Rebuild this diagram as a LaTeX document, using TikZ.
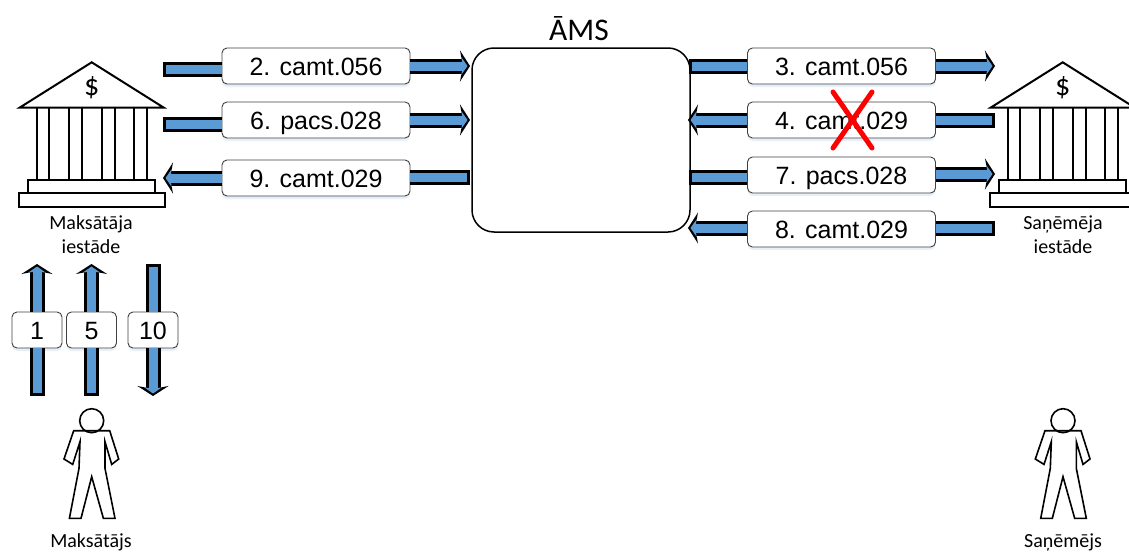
\documentclass[tikz,border=0pt]{standalone}
\usepackage{fontspec}
\setmainfont{Liberation Sans}
\newfontfamily\smallfont{Carlito}
\usetikzlibrary{arrows.meta,shadows}
\definecolor{flowblue}{HTML}{5B9BD5}
\tikzset{
  msgbox/.style={draw=black!75, fill=white, rounded corners=5pt, line width=0.9pt,
    minimum width=188pt, minimum height=36pt, inner sep=0pt,
    text height=18pt, text depth=0pt,
    font=\fontsize{25}{30}\selectfont,
    drop shadow={shadow xshift=0pt, shadow yshift=-3pt, fill=flowblue, opacity=0.15}},
  numbox/.style={msgbox, minimum width=50pt},
  flowtail/.style={draw=flowblue, line width=9pt, shorten >=3pt,
    preaction={draw=black, line width=15pt, shorten >=0pt}},
  flowhead/.style={draw=flowblue, line width=9pt, shorten >=2.5pt,
    -{Stealth[length=6pt,width=17pt,inset=1pt,fill=flowblue]},
    preaction={draw=black, line width=15pt, shorten >=0pt,
      -{Stealth[length=10pt,width=31pt,inset=3pt,fill=black]}}},
  cross/.style={draw=red, line width=5pt, line cap=round},
  namelabel/.style={font=\smallfont\fontsize{20}{24}\selectfont, align=center, inner sep=0pt},
  bank/.pic={
    \draw [line width=2pt, line join=miter] (-72,45.3)--(0,0)--(72,45.3)--cycle;
    \foreach \colx in {-55,-42.3,-22.7,-9.7,10,23.3,42.3,55.3}
      \draw [line width=2pt] (\colx,45.3)--(\colx,117.7);
    \draw [line width=2pt] (-63.5,117.7) rectangle (63.5,131);
    \draw [line width=2pt] (-72.8,131) rectangle (72.8,145);
    \node [font=\smallfont\fontsize{30}{32}\selectfont] at (0,25) {\$};
  },
  person/.pic={
    \draw [line width=1.6pt] (0,0) circle (12);
    \draw [line width=1.6pt, line join=miter] (-18,10)--(18,10)--(27,38.3)--(20,43.7)--(13.3,21)
      --(13.3,47.7)--(23.3,97.7)--(11.7,97.7)--(0,56)--(-10.7,97.7)--(-22.3,97.7)
      --(-12.7,47.7)--(-11.7,21)--(-19,43.7)--(-27.7,38.3)--cycle;
  }
}
\begin{document}
\begin{tikzpicture}[x=1pt,y=-1pt]
  \useasboundingbox (0,0) rectangle (1129,554);
  \clip (0,0) rectangle (1129,554);

  \node [font=\smallfont\fontsize{31.5}{34}\selectfont] (title) at (579,29) {ĀMS};
  \node [draw, line width=1.5pt, rounded corners=22pt, minimum width=218pt, minimum height=184pt] (ams) at (581,140) {};

  \pic at (91.7,62.3) {bank};
  \pic at (1062.7,62.3) {bank};
  \node [namelabel] (payerbank) at (91,235) {Maksātāja\\iestāde};
  \node [namelabel] (payeebank) at (1063,235) {Saņēmēja\\iestāde};

  \pic at (91.7,420.7) {person};
  \pic at (1063,420.7) {person};
  \node [namelabel] (payer) at (91,542.5) {Maksātājs};
  \node [namelabel] (payee) at (1063,542.5) {Saņēmējs};

  % left side
  \node [msgbox] (m2) at (316,66) {2. camt.056};
  \node [msgbox] (m6) at (316,120) {6. pacs.028};
  \node [msgbox] (m9) at (316,178) {9. camt.029};
  \coordinate (t2) at (163,69);
  \coordinate (h2) at (470,66);
  \coordinate (t6) at (163,124);
  \coordinate (h6) at (470,120);
  \coordinate (h9) at (163,178);
  \coordinate (t9) at (470,177);
  \draw [flowtail] (t2 -| m2.west)--(t2);
  \draw [flowhead] (m2.east)--(h2);
  \draw [flowtail] (t6 -| m6.west)--(t6);
  \draw [flowhead] (m6.east)--(h6);
  \draw [flowhead] (m9.west)--(h9);
  \draw [flowtail] (t9 -| m9.east)--(t9);

  % right side
  \node [msgbox] (m3) at (841.5,66) {3. camt.056};
  \node [msgbox] (m4) at (841.5,120) {4. camt.029};
  \node [msgbox] (m7) at (841.5,175) {7. pacs.028};
  \node [msgbox] (m8) at (841.5,229) {8. camt.029};
  \coordinate (t3) at (689,66);
  \coordinate (h3) at (995,66);
  \coordinate (h4) at (688,120);
  \coordinate (t4) at (995,120);
  \coordinate (t7) at (689,177);
  \coordinate (h7) at (995,174);
  \coordinate (h8) at (688,228);
  \coordinate (t8) at (995,228);
  \draw [flowtail] (m3.west)--(t3);
  \draw [flowhead] (m3.east)--(h3);
  \draw [flowhead] (m4.west)--(h4);
  \draw [flowtail] (m4.east)--(t4);
  \draw [flowtail] (t7 -| m7.west)--(t7);
  \draw [flowhead] (h7 -| m7.east)--(h7);
  \draw [flowhead] (h8 -| m8.west)--(h8);
  \draw [flowtail] (t8 -| m8.east)--(t8);
  \draw [cross] (833,92)--(872,148);
  \draw [cross] (872,92)--(833,148);

  % payer side
  \node [numbox] (n1) at (37,330) {1};
  \node [numbox] (n5) at (91.5,330) {5};
  \node [numbox] (n10) at (153,330) {10};
  \coordinate (h1) at (37,264);
  \coordinate (t1) at (37,396);
  \coordinate (h5) at (91.5,264);
  \coordinate (t5) at (91.5,396);
  \coordinate (t10) at (153,264);
  \coordinate (h10) at (153,396);
  \draw [flowhead] (n1.north)--(h1);
  \draw [flowtail] (n1.south)--(t1);
  \draw [flowhead] (n5.north)--(h5);
  \draw [flowtail] (n5.south)--(t5);
  \draw [flowtail] (n10.north)--(t10);
  \draw [flowhead] (n10.south)--(h10);
\end{tikzpicture}
\end{document}
